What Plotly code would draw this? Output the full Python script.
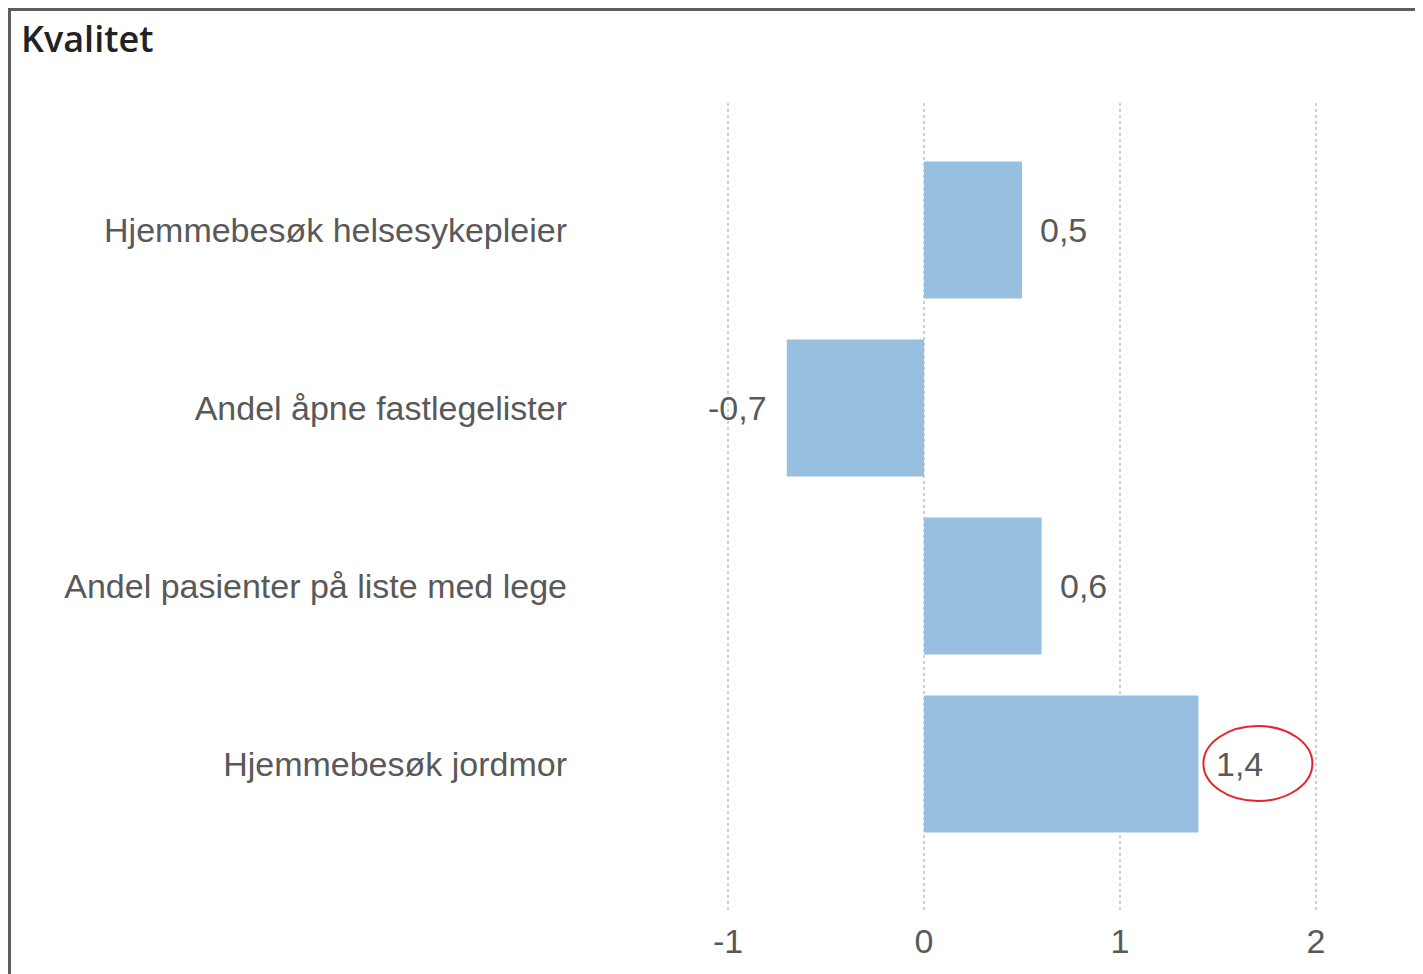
import plotly.graph_objects as go

# ---- data ----
categories = [
    "Hjemmebesøk helsesykepleier",
    "Andel åpne fastlegelister",
    "Andel pasienter på liste med lege",
    "Hjemmebesøk jordmor",
]
values = [0.5, -0.7, 0.6, 1.4]
value_labels = ["0,5", "-0,7", "0,6", "1,4"]
x_tickvals = [-1, 0, 1, 2]
x_ticktext = ["-1", "0", "1", "2"]
title_text = "Kvalitet"
highlight_index = 3

# ---- geometry (page pixels; the page body has an 8px margin) ----
OFF = 8
W, H = 1423 - OFF, 974 - OFF
PL, PR, PT, PB = 630 - OFF, 1414 - OFF, 103 - OFF, 910 - OFF  # plot area
XMIN, XMAX = -1.5, 2.5
YTOP, YBOTTOM = -0.713, 3.82

FONT = "Liberation Sans, Arial, sans-serif"
GRAY = "#595959"
BAR = "#97BFE0"

fig = go.Figure(
    go.Bar(
        x=values,
        y=categories,
        orientation="h",
        marker=dict(color=BAR, line=dict(width=0)),
        hoverinfo="skip",
    )
)

for v, c, t in zip(values, categories, value_labels):
    fig.add_annotation(
        x=v, y=c, xref="x", yref="y", text=t, showarrow=False,
        xanchor="left" if v >= 0 else "right",
        xshift=16 if v >= 0 else -18,
        font=dict(family=FONT, size=34, color=GRAY),
    )

# red ellipse around highlighted label
fig.add_shape(
    type="circle", xref="x", yref="y",
    xsizemode="pixel", ysizemode="pixel",
    xanchor=values[highlight_index], yanchor=highlight_index,
    x0=5, x1=114, y0=-37, y1=38,
    line=dict(color="#E8232A", width=2),
)

def px_to_paper_x(px):
    return (px - OFF - PL) / (PR - PL)

def px_to_paper_y(py):
    return (PB - (py - OFF)) / (PB - PT)

# frame (top and left lines)
fig.add_shape(type="line", xref="paper", yref="paper",
              x0=px_to_paper_x(9), x1=px_to_paper_x(1430),
              y0=px_to_paper_y(9.5), y1=px_to_paper_y(9.5),
              line=dict(color="#5E5E5E", width=3))
fig.add_shape(type="line", xref="paper", yref="paper",
              x0=px_to_paper_x(9.5), x1=px_to_paper_x(9.5),
              y0=px_to_paper_y(8), y1=px_to_paper_y(980),
              line=dict(color="#5E5E5E", width=3))

fig.add_annotation(
    text=title_text, xref="paper", yref="paper",
    x=px_to_paper_x(19), y=px_to_paper_y(38),
    xanchor="left", yanchor="middle", showarrow=False,
    font=dict(family="Open Sans, sans-serif", size=36, color="#222222", weight=600),
)

fig.update_layout(
    width=W, height=H,
    margin=dict(l=PL, r=W - PR, t=PT, b=H - PB, autoexpand=False),
    paper_bgcolor="white", plot_bgcolor="white",
    showlegend=False,
    bargap=0.23,
    xaxis=dict(
        range=[XMIN, XMAX], tickvals=x_tickvals, ticktext=x_ticktext,
        showgrid=True, gridcolor="#CFCFCF", griddash="dot", gridwidth=2,
        zeroline=False, showline=False,
        tickfont=dict(family=FONT, size=34, color=GRAY),
        ticks="", ticklabelstandoff=8,
    ),
    yaxis=dict(
        categoryorder="array", categoryarray=categories,
        autorange=False, range=[YBOTTOM, YTOP],
        showgrid=False, zeroline=False, showline=False,
        tickfont=dict(family=FONT, size=34, color=GRAY),
        ticks="", ticklabelstandoff=62,
    ),
)

fig.write_html("out.html")
